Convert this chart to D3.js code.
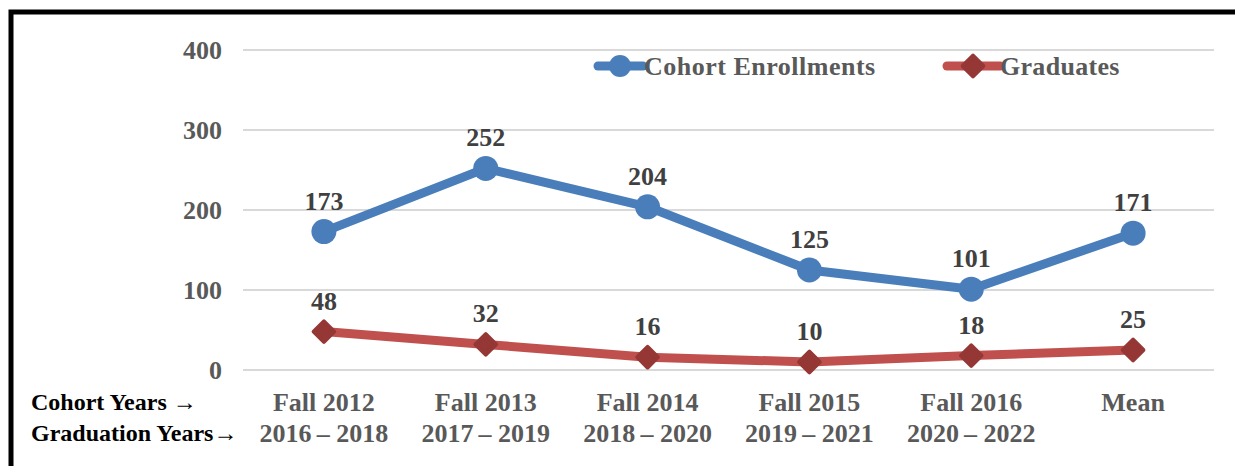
<!DOCTYPE html>
<html>
<head>
<meta charset="utf-8">
<script src="https://cdn.jsdelivr.net/npm/d3@7"></script>
<style>
  body { margin: 0; background: #fff; }
  text { font-family: "Liberation Serif", "Times New Roman", serif; font-weight: bold; }
</style>
</head>
<body>
<div id="chart"></div>
<script>
// Chart data
var cohortYears = ["Fall 2012", "Fall 2013", "Fall 2014", "Fall 2015", "Fall 2016", "Mean"];
var gradYears = ["2016\u2009– 2018", "2017\u2009– 2019", "2018\u2009– 2020", "2019\u2009– 2021", "2020\u2009– 2022", ""];
var enrollments = [173, 252, 204, 125, 101, 171];
var graduates = [48, 32, 16, 10, 18, 25];
var yTicks = [0, 100, 200, 300, 400];

var svgWidth = 1235;
var svgHeight = 466;

var margin = { top: 50, left: 243, right: 21, bottom: 96 };
var width = svgWidth - margin.left - margin.right;
var height = svgHeight - margin.top - margin.bottom;

var fontSize = 26;

var svg = d3.select("#chart")
    .append("svg")
    .attr("width", svgWidth)
    .attr("height", svgHeight);

// outer frame (thick black border)
svg.append("path")
    .attr("d", "M11,470 L11,12 L1240,12")
    .attr("fill", "none")
    .attr("stroke", "#000")
    .attr("stroke-width", 5);

var chartGroup = svg.append("g")
    .attr("transform", `translate(${margin.left}, ${margin.top})`);

var xScale = d3.scaleBand()
    .domain(cohortYears)
    .range([0, width]);

var yScale = d3.scaleLinear()
    .domain([0, 400])
    .range([height, 0]);

var cx = d => xScale(d) + xScale.bandwidth() / 2;

// gridlines
chartGroup.selectAll(".grid")
    .data(yTicks)
    .enter()
    .append("line")
    .attr("x1", 0)
    .attr("x2", width)
    .attr("y1", d => yScale(d))
    .attr("y2", d => yScale(d))
    .attr("stroke", "#d9d9d9")
    .attr("stroke-width", 2);

// y axis labels
var leftAxis = d3.axisLeft(yScale).tickValues(yTicks).tickSize(0).tickPadding(21);
var yAxis = chartGroup.append("g").call(leftAxis);
yAxis.select(".domain").remove();
yAxis.selectAll("text")
    .attr("font-family", "Liberation Serif, serif")
    .attr("font-size", fontSize)
    .attr("fill", "#595959");

// x axis labels (two rows)
var xLabels = chartGroup.append("g")
    .attr("transform", `translate(0, ${height})`);
xLabels.selectAll(".cat1")
    .data(cohortYears)
    .enter()
    .append("text")
    .attr("x", d => cx(d))
    .attr("y", 41)
    .attr("text-anchor", "middle")
    .attr("font-size", fontSize)
    .attr("fill", "#595959")
    .text(d => d);
xLabels.selectAll(".cat2")
    .data(gradYears)
    .enter()
    .append("text")
    .attr("x", (d, i) => cx(cohortYears[i]))
    .attr("y", 72)
    .attr("text-anchor", "middle")
    .attr("font-size", fontSize)
    .attr("fill", "#595959")
    .text(d => d);

// row headers
svg.append("text")
    .attr("x", 31)
    .attr("y", 410)
    .attr("font-size", 24)
    .attr("fill", "#000")
    .text("Cohort Years \u2192");
svg.append("text")
    .attr("x", 31)
    .attr("y", 441)
    .attr("font-size", 24)
    .attr("fill", "#000")
    .text("Graduation Years\u2192");

var line = d3.line()
    .x((d, i) => cx(cohortYears[i]))
    .y(d => yScale(d));

// enrollments series
chartGroup.append("path")
    .datum(enrollments)
    .attr("d", line)
    .attr("fill", "none")
    .attr("stroke", "#4a7ebb")
    .attr("stroke-width", 9)
    .attr("stroke-linejoin", "round");
chartGroup.selectAll(".dotE")
    .data(enrollments)
    .enter()
    .append("circle")
    .attr("cx", (d, i) => cx(cohortYears[i]))
    .attr("cy", d => yScale(d))
    .attr("r", 12.5)
    .attr("fill", "#4a7ebb");
chartGroup.selectAll(".labE")
    .data(enrollments)
    .enter()
    .append("text")
    .attr("x", (d, i) => cx(cohortYears[i]))
    .attr("y", d => yScale(d) - 22)
    .attr("text-anchor", "middle")
    .attr("font-size", fontSize)
    .attr("fill", "#404040")
    .text(d => d);

// graduates series
chartGroup.append("path")
    .datum(graduates)
    .attr("d", line)
    .attr("fill", "none")
    .attr("stroke", "#c0504d")
    .attr("stroke-width", 9)
    .attr("stroke-linejoin", "round");
var diamond = d3.symbol().type(d3.symbolDiamond2).size(270);
chartGroup.selectAll(".dotG")
    .data(graduates)
    .enter()
    .append("path")
    .attr("d", diamond)
    .attr("transform", (d, i) => `translate(${cx(cohortYears[i])}, ${yScale(d)})`)
    .attr("fill", "#953735")
    .attr("stroke", "#953735")
    .attr("stroke-width", 4)
    .attr("stroke-linejoin", "round");
chartGroup.selectAll(".labG")
    .data(graduates)
    .enter()
    .append("text")
    .attr("x", (d, i) => cx(cohortYears[i]))
    .attr("y", d => yScale(d) - 22)
    .attr("text-anchor", "middle")
    .attr("font-size", fontSize)
    .attr("fill", "#404040")
    .text(d => d);

// legend
var legend = svg.append("g");
legend.append("line")
    .attr("x1", 598).attr("x2", 643).attr("y1", 66).attr("y2", 66)
    .attr("stroke", "#4a7ebb").attr("stroke-width", 9).attr("stroke-linecap", "round");
legend.append("circle")
    .attr("cx", 620).attr("cy", 66).attr("r", 11).attr("fill", "#4a7ebb");
legend.append("text")
    .attr("x", 644).attr("y", 75)
    .attr("font-size", fontSize).attr("fill", "#595959")
    .attr("letter-spacing", 0.5)
    .text("Cohort Enrollments");
legend.append("line")
    .attr("x1", 947).attr("x2", 1000).attr("y1", 66).attr("y2", 66)
    .attr("stroke", "#c0504d").attr("stroke-width", 9).attr("stroke-linecap", "round");
legend.append("path")
    .attr("d", diamond)
    .attr("transform", "translate(973, 66)")
    .attr("fill", "#953735").attr("stroke", "#953735")
    .attr("stroke-width", 4).attr("stroke-linejoin", "round");
legend.append("text")
    .attr("x", 1000).attr("y", 75)
    .attr("font-size", fontSize).attr("fill", "#595959")
    .attr("letter-spacing", 0.3)
    .text("Graduates");
</script>
</body>
</html>
